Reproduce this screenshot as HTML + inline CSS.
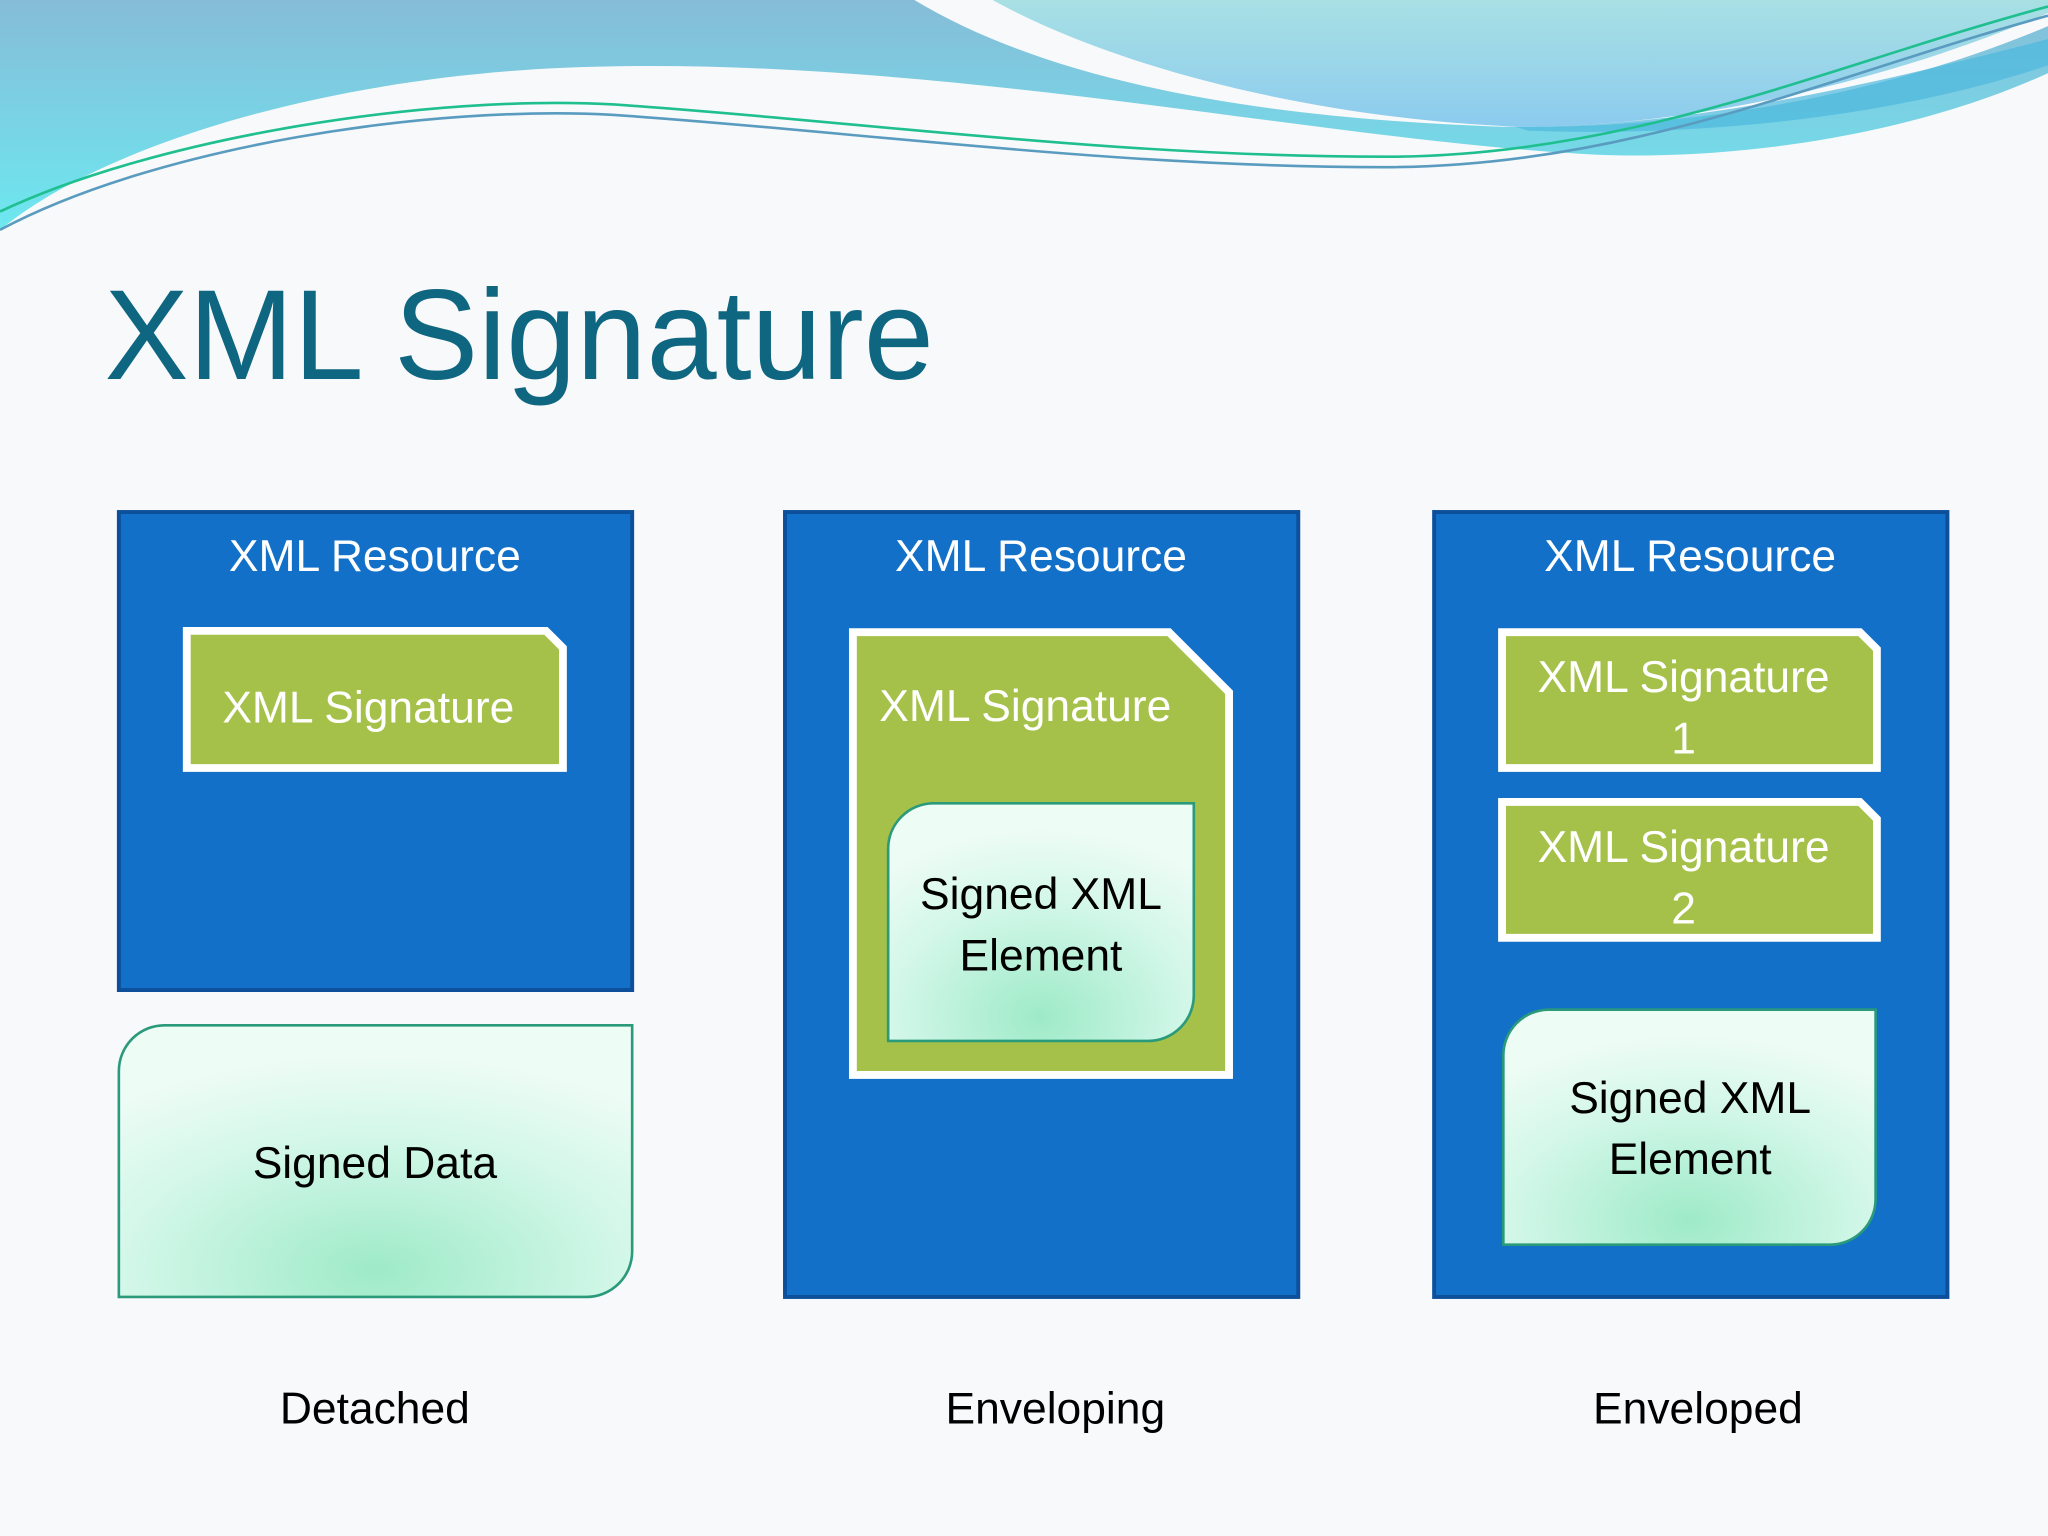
<!DOCTYPE html>
<html><head><meta charset="utf-8"><style>html,body{margin:0;padding:0;background:#f8f9fa}svg{display:block}</style></head>
<body>
<svg width="2048" height="1536" viewBox="0 0 1568 1176" xmlns="http://www.w3.org/2000/svg" font-family="'Liberation Sans', sans-serif">
<defs>
<linearGradient id="bg1" x1="0" y1="0" x2="0" y2="1"><stop offset="0" stop-color="#86bcd8"/><stop offset="1" stop-color="#6de8f0"/></linearGradient>
<linearGradient id="bg2" x1="0" y1="0" x2="0" y2="1"><stop offset="0" stop-color="#a8e0e4"/><stop offset="1" stop-color="#8ccbee"/></linearGradient>
<radialGradient id="mint" cx="0.5" cy="0.9" r="0.8"><stop offset="0" stop-color="#9eeac8"/><stop offset="0.6" stop-color="#d2f7e8"/><stop offset="1" stop-color="#eefcf6"/></radialGradient>
</defs>
<rect width="1568" height="1176" fill="#f8f9fa"/>
<path d="M0,0 H1568 V56 C1450,110 1300,125 1200,117 C1000,105 700,40 430,52 C250,60 80,110 0,176 Z" fill="url(#bg1)"/>
<path d="M700,0 C800,60 950,90 1150,97 C1300,100 1450,70 1568,20 V0 Z" fill="#f8f9fa"/>
<path d="M760,0 C850,50 1000,90 1160,97 C1300,98 1450,60 1568,10 V0 Z" fill="url(#bg2)"/>
<path d="M1160,97 C1300,98 1450,60 1568,30 V50 C1450,90 1300,105 1170,100 Z" fill="#4db8dd" opacity="0.7"/>
<path d="M0,162 C120,105 330,72 470,80 C650,92 850,120 1060,120 C1250,120 1400,50 1568,5" fill="none" stroke="#1fbf90" stroke-width="2"/>
<path d="M0,176 C120,112 330,80 470,88 C650,100 850,128 1060,128 C1250,128 1400,58 1568,12" fill="none" stroke="#5a9cc0" stroke-width="2"/>
<text x="80" y="290" font-size="98" fill="#0e6680" textLength="635" lengthAdjust="spacingAndGlyphs">XML Signature</text>

<g font-size="34" text-anchor="middle">
<rect x="91" y="392" width="393" height="366" fill="#1270c8" stroke="#0d4f9a" stroke-width="3"/>
<text x="287" y="437" fill="#fff">XML Resource</text>
<path d="M143,483 H418 L431,496 V588 H143 Z" fill="#a5c14a" stroke="#fff" stroke-width="6"/>
<text x="282" y="553" fill="#fff">XML Signature</text>
<path d="M126,785 H484 V958 A35,35 0 0 1 449,993 H91 V820 A35,35 0 0 1 126,785 Z" fill="url(#mint)" stroke="#2a9a7a" stroke-width="2"/>
<text x="287" y="902" fill="#000">Signed Data</text>
<text x="287" y="1090" fill="#000">Detached</text>

<rect x="601" y="392" width="393" height="601" fill="#1270c8" stroke="#0d4f9a" stroke-width="3"/>
<text x="797" y="437" fill="#fff">XML Resource</text>
<path d="M653,484 H895 L941,530 V823 H653 Z" fill="#a5c14a" stroke="#fff" stroke-width="6"/>
<text x="785" y="552" fill="#fff">XML Signature</text>
<path d="M714,615 H914 V762 A35,35 0 0 1 879,797 H680 V649 A35,35 0 0 1 714,615 Z" fill="url(#mint)" stroke="#2a9a7a" stroke-width="2"/>
<text x="797" y="696" fill="#000">Signed XML</text>
<text x="797" y="743" fill="#000">Element</text>
<text x="808" y="1090" fill="#000">Enveloping</text>

<rect x="1098" y="392" width="393" height="601" fill="#1270c8" stroke="#0d4f9a" stroke-width="3"/>
<text x="1294" y="437" fill="#fff">XML Resource</text>
<path d="M1150,484 H1424 L1437,497 V588 H1150 Z" fill="#a5c14a" stroke="#fff" stroke-width="6"/>
<text x="1289" y="530" fill="#fff">XML Signature</text>
<text x="1289" y="577" fill="#fff">1</text>
<path d="M1150,614 H1424 L1437,627 V718 H1150 Z" fill="#a5c14a" stroke="#fff" stroke-width="6"/>
<text x="1289" y="660" fill="#fff">XML Signature</text>
<text x="1289" y="707" fill="#fff">2</text>
<path d="M1185,773 H1436 V918 A35,35 0 0 1 1401,953 H1151 V808 A35,35 0 0 1 1185,773 Z" fill="url(#mint)" stroke="#2a9a7a" stroke-width="2"/>
<text x="1294" y="852" fill="#000">Signed XML</text>
<text x="1294" y="899" fill="#000">Element</text>
<text x="1300" y="1090" fill="#000">Enveloped</text>
</g>
</svg>
</body></html>
